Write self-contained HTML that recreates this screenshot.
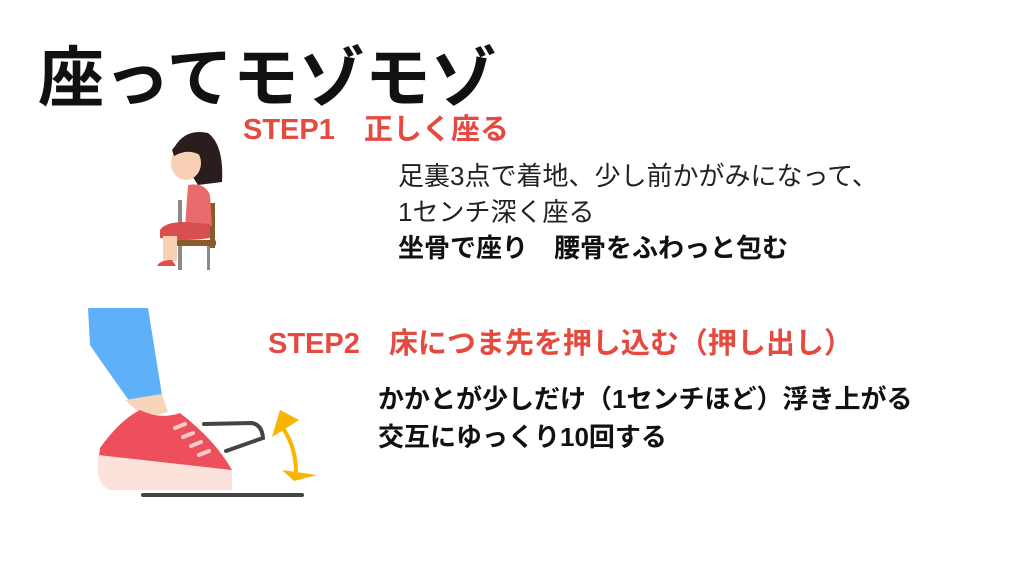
<!DOCTYPE html>
<html><head><meta charset="utf-8"><style>
body{margin:0;width:1024px;height:576px;background:#fff;position:relative;overflow:hidden;font-family:"Liberation Sans","Noto Sans CJK JP",sans-serif}
.t{position:absolute;white-space:nowrap;line-height:1.2}
.title{left:38px;top:39px;font-size:66px;font-weight:bold;color:#111}
.red{color:#e44a3f;font-weight:bold;font-size:29px}
.n{font-size:26px;color:#222}
.b{font-size:26px;color:#111;font-weight:bold}
</style></head><body>
<div class="t title">座ってモゾモゾ</div>
<div class="t red" style="left:243px;top:113px">STEP1　正しく座る</div>
<div class="t n" style="left:398px;top:161px">足裏3点で着地、少し前かがみになって、</div>
<div class="t n" style="left:398px;top:197px">1センチ深く座る</div>
<div class="t b" style="left:398px;top:233px">坐骨で座り　腰骨をふわっと包む</div>
<div class="t red" style="left:268px;top:327px">STEP2　床につま先を押し込む（押し出し）</div>
<div class="t b" style="left:378px;top:384px">かかとが少しだけ（1センチほど）浮き上がる</div>
<div class="t b" style="left:378px;top:422px">交互にゆっくり10回する</div>
<svg width="1024" height="576" style="position:absolute;left:0;top:0">
<rect x="178" y="200" width="4" height="70" fill="#8a8a8a"/>
<rect x="207" y="240" width="3" height="30" fill="#8a8a8a"/>
<rect x="210" y="203" width="5" height="45" fill="#8b5a2b"/>
<rect x="176" y="240" width="40" height="6" rx="2" fill="#8b5a2b"/>
<path d="M188 185 Q205 182 210 195 L212 226 L185 228 Z" fill="#e86a6a"/>
<path d="M160 230 Q165 222 185 222 L210 224 L210 238 Q185 242 160 238 Z" fill="#d94f4f"/>
<rect x="163" y="236" width="14" height="25" fill="#f8d1b4"/>
<path d="M157 266 Q160 260 172 260 L176 266 Z" fill="#e34d4d"/>
<path d="M174 148 Q185 128 208 133 Q224 145 222 182 L198 185 Z" fill="#2b1d1d"/>
<ellipse cx="186" cy="163" rx="15" ry="17" fill="#f8d1b4"/>
<path d="M172 150 Q185 132 205 142 L200 155 Q188 148 174 156 Z" fill="#2b1d1d"/>
<path d="M88 308 L148 308 L162 395 L130 402 Q100 360 90 345 Z" fill="#5eb0f8"/>
<path d="M125 400 L162 394 L168 412 L145 418 Z" fill="#f8d5b8"/>
<path d="M100 448 Q120 420 140 410 Q160 420 180 413 Q215 440 232 470 L232 488 L112 488 Q95 480 100 448 Z" fill="#ee4f5c"/>
<path d="M98 455 L232 470 L232 490 L110 490 Q95 485 98 455 Z" fill="#fbe3dc"/>
<g stroke="#f9c9c9" stroke-width="4" stroke-linecap="round"><line x1="175" y1="428" x2="185" y2="424"/><line x1="183" y1="437" x2="193" y2="433"/><line x1="191" y1="446" x2="201" y2="442"/><line x1="199" y1="455" x2="209" y2="451"/></g>
<line x1="143" y1="495" x2="302" y2="495" stroke="#444" stroke-width="4" stroke-linecap="round"/>
<path d="M204 424 L252 423 Q262 425 263 438 L226 451" fill="none" stroke="#444" stroke-width="4" stroke-linecap="round"/>
<path d="M280 424 Q296 445 296 472" fill="none" stroke="#f8b500" stroke-width="4"/>
<path d="M272 437 L280 410 L299 420 Z" fill="#f8b500"/>
<path d="M282 470 L317 475 L294 481 Z" fill="#f8b500"/>
</svg>
</body></html>
